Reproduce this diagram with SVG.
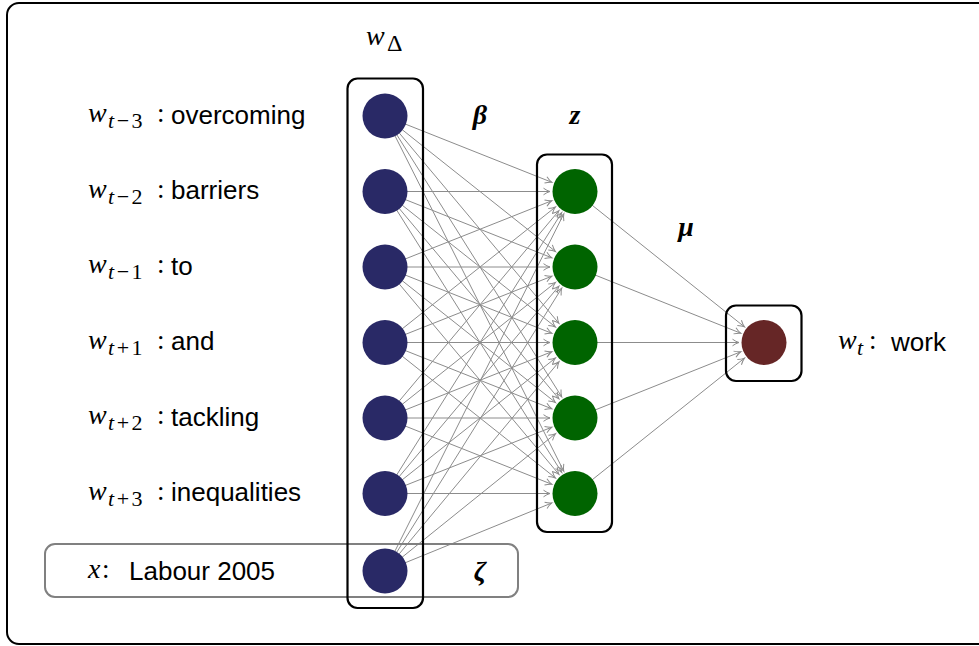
<svg xmlns="http://www.w3.org/2000/svg" width="979" height="646" viewBox="0 0 979 646">
<style>
.frame{fill:none;stroke:#000;stroke-width:2}
.box{fill:none;stroke:#000;stroke-width:2.2}
.xbox{fill:none;stroke:#808080;stroke-width:2}
.in{fill:#292966}
.hid{fill:#006400}
.out{fill:#662626}
.edge{stroke:#8c8c8c;stroke-width:1;fill:none;marker-end:url(#arr)}
.m{font-family:"Liberation Serif","DejaVu Serif",serif;font-style:italic;font-size:28px;fill:#000}
.sub{font-family:"Liberation Serif","DejaVu Serif",serif;font-size:22px;letter-spacing:2.5px;fill:#000}
.subi{font-style:italic}
.col{font-family:"Liberation Serif","DejaVu Serif",serif;font-size:27px;fill:#000}
.w{font-family:"Liberation Sans",Arial,sans-serif;font-size:26px;fill:#000}
.g{font-family:"Liberation Serif","DejaVu Serif",serif;font-style:italic;font-weight:bold;font-size:28px;fill:#000;text-anchor:middle}
</style>
<defs>
<marker id="arr" markerUnits="userSpaceOnUse" viewBox="-8 -5 10 10" refX="0" refY="0" markerWidth="10" markerHeight="10" orient="auto">
<path d="M-6.5,-3.3 Q-3,-0.8 0,0 Q-3,0.8 -6.5,3.3" fill="none" stroke="#8c8c8c" stroke-width="1"/>
</marker>
</defs>
<rect width="979" height="646" fill="#fff"/>
<rect class="frame" x="7" y="3" width="990" height="641" rx="12"/>

<g id="connectors">
<line class="edge" x1="385" y1="116" x2="551.77" y2="182.27"/>
<line class="edge" x1="385" y1="116" x2="555.43" y2="251.44"/>
<line class="edge" x1="385" y1="116" x2="558.93" y2="323.35"/>
<line class="edge" x1="385" y1="116" x2="561.69" y2="396.84"/>
<line class="edge" x1="385" y1="116" x2="563.76" y2="471.17"/>
<line class="edge" x1="385" y1="191.5" x2="550" y2="191.5"/>
<line class="edge" x1="385" y1="191.5" x2="551.77" y2="257.77"/>
<line class="edge" x1="385" y1="191.5" x2="555.43" y2="326.94"/>
<line class="edge" x1="385" y1="191.5" x2="558.93" y2="398.85"/>
<line class="edge" x1="385" y1="191.5" x2="561.69" y2="472.34"/>
<line class="edge" x1="385" y1="267" x2="551.77" y2="200.73"/>
<line class="edge" x1="385" y1="267" x2="550" y2="267"/>
<line class="edge" x1="385" y1="267" x2="551.77" y2="333.27"/>
<line class="edge" x1="385" y1="267" x2="555.43" y2="402.44"/>
<line class="edge" x1="385" y1="267" x2="558.93" y2="474.35"/>
<line class="edge" x1="385" y1="342.5" x2="555.43" y2="207.06"/>
<line class="edge" x1="385" y1="342.5" x2="551.77" y2="276.23"/>
<line class="edge" x1="385" y1="342.5" x2="550" y2="342.5"/>
<line class="edge" x1="385" y1="342.5" x2="551.77" y2="408.77"/>
<line class="edge" x1="385" y1="342.5" x2="555.43" y2="477.94"/>
<line class="edge" x1="385" y1="418" x2="558.93" y2="210.65"/>
<line class="edge" x1="385" y1="418" x2="555.43" y2="282.56"/>
<line class="edge" x1="385" y1="418" x2="551.77" y2="351.73"/>
<line class="edge" x1="385" y1="418" x2="550" y2="418"/>
<line class="edge" x1="385" y1="418" x2="551.77" y2="484.27"/>
<line class="edge" x1="385" y1="493.5" x2="561.69" y2="212.66"/>
<line class="edge" x1="385" y1="493.5" x2="558.93" y2="286.15"/>
<line class="edge" x1="385" y1="493.5" x2="555.43" y2="358.06"/>
<line class="edge" x1="385" y1="493.5" x2="551.77" y2="427.23"/>
<line class="edge" x1="385" y1="493.5" x2="550" y2="493.5"/>
<line class="edge" x1="385" y1="571" x2="563.81" y2="213.86"/>
<line class="edge" x1="385" y1="571" x2="561.75" y2="288.20"/>
<line class="edge" x1="385" y1="571" x2="559.02" y2="361.72"/>
<line class="edge" x1="385" y1="571" x2="555.53" y2="433.68"/>
<line class="edge" x1="385" y1="571" x2="551.85" y2="502.94"/>
<line class="edge" x1="575" y1="191.5" x2="744.47" y2="326.89"/>
<line class="edge" x1="575" y1="267" x2="740.78" y2="333.23"/>
<line class="edge" x1="575" y1="342.5" x2="739" y2="342.5"/>
<line class="edge" x1="575" y1="418" x2="740.78" y2="351.77"/>
<line class="edge" x1="575" y1="493.5" x2="744.47" y2="358.11"/>
</g>

<g id="context-box">
<rect class="xbox" x="45" y="544" width="473" height="53" rx="10"/>
</g>
<g id="input-layer">
<rect class="box" x="347.5" y="78.5" width="75.5" height="529.5" rx="10"/>
<text class="m" x="366" y="45">w</text><text class="sub" x="387" y="51" style="font-size:24px">Δ</text>
</g>
<g id="hidden-layer">
<rect class="box" x="537" y="154.5" width="75" height="377.5" rx="10"/>
<text class="g" x="575" y="124">z</text>
</g>
<g id="output-layer">
<rect class="box" x="726" y="305.5" width="75.5" height="75.5" rx="10"/>
</g>

<g id="beta"><text class="g" x="480" y="124">β</text></g>
<g id="mu"><text class="g" x="686" y="236">μ</text></g>
<g id="zeta"><text class="g" x="480" y="580">ζ</text></g>

<g id="n-wt-3">
<circle class="in" cx="385" cy="116" r="22.5"/>
<text class="m" x="88" y="122">w</text><text class="sub" x="108" y="128"><tspan class="subi">t</tspan>−3</text><text class="col" x="157" y="122">:</text>
<text class="w" x="171" y="124">overcoming</text>
</g>
<g id="n-wt-2">
<circle class="in" cx="385" cy="191.5" r="22.5"/>
<text class="m" x="88" y="197.5">w</text><text class="sub" x="108" y="203.5"><tspan class="subi">t</tspan>−2</text><text class="col" x="157" y="197.5">:</text>
<text class="w" x="171" y="199">barriers</text>
</g>
<g id="n-wt-1">
<circle class="in" cx="385" cy="267" r="22.5"/>
<text class="m" x="88" y="273">w</text><text class="sub" x="108" y="279"><tspan class="subi">t</tspan>−1</text><text class="col" x="157" y="273">:</text>
<text class="w" x="171" y="275">to</text>
</g>
<g id="n-wt+1">
<circle class="in" cx="385" cy="342.5" r="22.5"/>
<text class="m" x="88" y="348.5">w</text><text class="sub" x="108" y="354.5"><tspan class="subi">t</tspan>+1</text><text class="col" x="157" y="348.5">:</text>
<text class="w" x="171" y="350">and</text>
</g>
<g id="n-wt+2">
<circle class="in" cx="385" cy="418" r="22.5"/>
<text class="m" x="88" y="424">w</text><text class="sub" x="108" y="430"><tspan class="subi">t</tspan>+2</text><text class="col" x="157" y="424">:</text>
<text class="w" x="171" y="426">tackling</text>
</g>
<g id="n-wt+3">
<circle class="in" cx="385" cy="493.5" r="22.5"/>
<text class="m" x="88" y="499.5">w</text><text class="sub" x="108" y="505.5"><tspan class="subi">t</tspan>+3</text><text class="col" x="157" y="499.5">:</text>
<text class="w" x="171" y="501">inequalities</text>
</g>
<g id="n-x">
<circle class="in" cx="385" cy="571" r="22.5"/>
<text class="m" x="88" y="578">x</text><text class="col" x="102" y="578">:</text>
<text class="w" x="129" y="580">Labour 2005</text>
</g>

<g id="h1"><circle class="hid" cx="575" cy="191.5" r="22.5"/></g>
<g id="h2"><circle class="hid" cx="575" cy="267" r="22.5"/></g>
<g id="h3"><circle class="hid" cx="575" cy="342.5" r="22.5"/></g>
<g id="h4"><circle class="hid" cx="575" cy="418" r="22.5"/></g>
<g id="h5"><circle class="hid" cx="575" cy="493.5" r="22.5"/></g>

<g id="n-wt">
<circle class="out" cx="764" cy="342.5" r="22.5"/>
<text class="m" x="838" y="349">w</text><text class="sub subi" x="857" y="355">t</text><text class="col" x="869" y="349">:</text>
<text class="w" x="891" y="351">work</text>
</g>
</svg>
